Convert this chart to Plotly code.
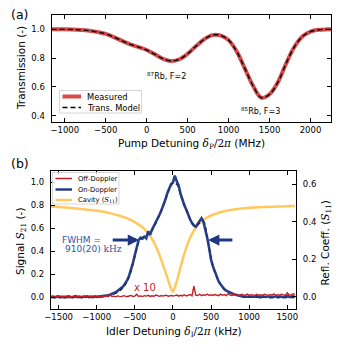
import plotly.graph_objects as go

W, H = 346, 356
OFF = 8  # the page body keeps its default 8px margin
FW, FH = W - OFF, H - OFF

# ---- panel (a): absorption spectrum ----
pump_mhz = [-1160, -1100, -1000, -900, -800, -700, -600, -500, -400, -300, -200, -100,
            0, 100, 200, 300, 400, 500, 600, 700, 800, 900, 1000, 1100, 1200, 1300,
            1400, 1500, 1600, 1700, 1800, 1900, 2000, 2100, 2200, 2250]
trans_measured = [1.000, 1.000, 1.000, 0.999, 0.996, 0.991, 0.982, 0.968, 0.946, 0.920, 0.895, 0.876,
                  0.856, 0.826, 0.795, 0.780, 0.792, 0.830, 0.882, 0.930, 0.960, 0.958, 0.925, 0.845,
                  0.725, 0.605, 0.524, 0.548, 0.630, 0.760, 0.875, 0.950, 0.985, 0.997, 1.000, 1.000]
trans_model = [1.000, 1.000, 1.000, 0.999, 0.996, 0.991, 0.982, 0.968, 0.946, 0.920, 0.895, 0.876,
               0.856, 0.826, 0.795, 0.780, 0.792, 0.830, 0.882, 0.930, 0.960, 0.958, 0.925, 0.845,
               0.725, 0.605, 0.524, 0.548, 0.630, 0.760, 0.875, 0.950, 0.985, 0.997, 1.000, 1.000]

# ---- panel (b): idler spectrum ----
idler_khz = list(range(-1600, 1625, 25))
on_doppler = [
    0.004, 0.008, 0.002, 0.006, 0.010, 0.003, 0.007, 0.001, 0.005, 0.009,
    0.004, 0.002, 0.007, 0.011, 0.003, 0.006, 0.002, 0.008, 0.005, 0.010,
    0.004, 0.007, 0.003, 0.009, 0.006,
    0.008, 0.011, 0.009, 0.014, 0.016, 0.020, 0.024, 0.030, 0.036, 0.047,
    0.058, 0.068, 0.085, 0.098, 0.120, 0.150, 0.190, 0.238, 0.300, 0.370,
    0.440, 0.500,
    0.520, 0.512, 0.530, 0.515, 0.575, 0.545, 0.590, 0.620, 0.655, 0.690,
    0.722, 0.760, 0.800, 0.850, 0.905, 0.945, 0.985, 1.000,
    1.060, 1.010, 0.975, 0.900, 0.845, 0.800, 0.765, 0.715, 0.680, 0.648,
    0.625, 0.615, 0.640, 0.655, 0.690, 0.660, 0.600, 0.520, 0.430, 0.330,
    0.270, 0.220, 0.180, 0.140, 0.115, 0.090, 0.072, 0.060, 0.050, 0.042,
    0.036, 0.028, 0.022, 0.020, 0.012, 0.010, 0.007,
    0.006, 0.010, 0.004, 0.008, 0.003, 0.007, 0.011, 0.005, 0.002, 0.009,
    0.006, 0.004, 0.010, 0.003, 0.007, 0.005, 0.012, 0.004, 0.008, 0.006,
    0.003, 0.009, 0.015, 0.005, 0.007, 0.010, 0.004,
]
off_doppler_x10 = [
    0.006, 0.010, 0.004, 0.012, 0.007, 0.009, 0.003, 0.011, 0.008, 0.005,
    0.013, 0.006, 0.010, 0.004, 0.009, 0.012, 0.006, 0.008, 0.014, 0.005,
    0.010, 0.007, 0.012, 0.006, 0.009,
    0.011, 0.005, 0.013, 0.008, 0.015, 0.007, 0.022, 0.009, 0.012, 0.006,
    0.014, 0.010, 0.008, 0.016, 0.011, 0.007, 0.013, 0.018, 0.009, 0.012,
    0.028, 0.010, 0.014, 0.008, 0.016, 0.012, 0.019, 0.009, 0.015, 0.011,
    0.021, 0.013, 0.010, 0.017, 0.012, 0.020, 0.014, 0.011, 0.018, 0.013,
    0.016, 0.022, 0.012, 0.019, 0.014, 0.024, 0.013, 0.018, 0.026, 0.015,
    0.098, 0.020, 0.017, 0.028, 0.016, 0.023, 0.019, 0.030, 0.017, 0.024,
    0.018, 0.026, 0.020, 0.016, 0.029, 0.019, 0.025, 0.017, 0.034, 0.021,
    0.018, 0.027, 0.020, 0.024, 0.016, 0.028, 0.022, 0.019, 0.030, 0.018,
    0.025, 0.021, 0.017, 0.027, 0.020, 0.024, 0.018, 0.029, 0.022, 0.019,
    0.026, 0.021, 0.032, 0.018, 0.025, 0.020, 0.028, 0.023, 0.019, 0.040,
    0.024, 0.021, 0.033, 0.026,
]
fit_khz = [-1600, -1200, -1000, -900, -800, -700, -650, -600, -550, -500, -450, -400, -350,
           -300, -250, -200, -150, -100, -50, 0, 50, 100, 150, 200, 250, 300, 350, 400,
           450, 500, 550, 600, 650, 700, 800, 900, 1000, 1200, 1600]
fit_on = [0.000, 0.001, 0.003, 0.008, 0.024, 0.058, 0.090, 0.142, 0.228, 0.355, 0.478, 0.522, 0.538,
          0.562, 0.612, 0.682, 0.758, 0.848, 0.938, 0.995, 0.985, 0.902, 0.808, 0.718, 0.650, 0.622,
          0.648, 0.660, 0.525, 0.345, 0.222, 0.142, 0.092, 0.060, 0.027, 0.010, 0.004, 0.001, 0.000]
cav_khz = [-1600, -1400, -1200, -1000, -800, -700, -600, -500, -400, -350, -300, -250, -200,
           -150, -100, -60, -30, -10, 0, 10, 30, 60, 100, 150, 200, 250, 300, 350, 400, 500,
           600, 700, 800, 1000, 1200, 1400, 1600]
cav_refl = [0.481, 0.475, 0.468, 0.458, 0.443, 0.432, 0.418, 0.398, 0.370, 0.350, 0.325, 0.290, 0.246,
            0.193, 0.134, 0.085, 0.050, 0.032, 0.027, 0.034, 0.056, 0.096, 0.160, 0.230, 0.290, 0.335,
            0.368, 0.392, 0.410, 0.433, 0.448, 0.458, 0.465, 0.474, 0.478, 0.481, 0.483]

RED_A = "#d64b4b"
RED_B = "#c41f26"
NAVY = "#1f3683"
NAVY_TXT = "#3853a4"
YELLOW = "#ffc95e"
FONT = "DejaVu Sans"
SERIF = "DejaVu Serif"


def px(x):
    return (x - OFF) / FW


def py(y):
    return 1 - (y - OFF) / FH


def m(s):
    # math-style span (serif)
    return f'<span style="font-family:{SERIF}">{s}</span>'


fig = go.Figure()

# (a)
fig.add_trace(go.Scatter(x=pump_mhz, y=trans_measured, xaxis="x", yaxis="y", mode="lines",
                         line=dict(color=RED_A, width=4, shape="spline"), showlegend=False))
fig.add_trace(go.Scatter(x=pump_mhz, y=trans_model, xaxis="x", yaxis="y", mode="lines",
                         line=dict(color="black", width=1.4, dash="5px,3px", shape="spline"),
                         showlegend=False))

# (b) cavity on the right axis (drawn underneath)
fig.add_trace(go.Scatter(x=cav_khz, y=cav_refl, xaxis="x2", yaxis="y3", mode="lines",
                         line=dict(color=YELLOW, width=2.5, shape="spline", smoothing=0.4),
                         showlegend=False))
fig.add_trace(go.Scatter(x=fit_khz, y=fit_on, xaxis="x2", yaxis="y2", mode="lines",
                         line=dict(color="black", width=1.4, dash="4px,3px", shape="spline"),
                         showlegend=False))
fig.add_trace(go.Scatter(x=idler_khz, y=on_doppler, xaxis="x2", yaxis="y2", mode="lines",
                         line=dict(color=NAVY, width=2.6), opacity=0.95, showlegend=False))
fig.add_trace(go.Scatter(x=idler_khz, y=off_doppler_x10, xaxis="x2", yaxis="y2", mode="lines",
                         line=dict(color=RED_B, width=1.4), showlegend=False))

ax = dict(showline=True, linecolor="black", linewidth=1.2, ticks="inside", ticklen=4,
          tickwidth=1, tickcolor="black", showgrid=False, zeroline=False, automargin=False,
          tickfont=dict(size=8.5, color="black"))
TITLE_SIZE = 10.5

fig.update_layout(
    width=FW, height=FH, margin=dict(l=0, r=0, t=0, b=0),
    template="none", paper_bgcolor="white", plot_bgcolor="white",
    font=dict(family=FONT, color="black"),
    showlegend=False,
    xaxis=dict(ax, domain=[px(51.7), px(331)], anchor="y", range=[-1160, 2250],
               tickvals=[-1000, -500, 0, 500, 1000, 1500, 2000], mirror="ticks"),
    yaxis=dict(ax, domain=[py(122), py(15)], anchor="x", range=[0.355, 1.10],
               tickvals=[0.4, 0.6, 0.8, 1.0], tickformat=".1f", mirror="ticks",
               ticklabelstandoff=4),
    xaxis2=dict(ax, domain=[px(51), px(296)], anchor="y3", range=[-1600, 1615],
                tickvals=[-1500, -1000, -500, 0, 500, 1000, 1500], mirror="ticks"),
    yaxis3=dict(ax, domain=[py(309), py(171)], anchor="x2", side="right", range=[-0.065, 0.67],
                tickvals=[0.0, 0.2, 0.4, 0.6], tickformat=".1f", ticklabelstandoff=4),
    yaxis2=dict(ax, overlaying="y3", anchor="x2", side="left", range=[-0.1, 1.1],
                tickvals=[0.0, 0.2, 0.4, 0.6, 0.8, 1.0], tickformat=".1f", ticklabelstandoff=4),
)

ann = []
shapes = []


def label(text, x, y, size, angle=0, color="black", xanchor="center"):
    return dict(text=text, x=px(x), y=py(y), xref="paper", yref="paper", textangle=angle,
                xanchor=xanchor, yanchor="middle", showarrow=False,
                font=dict(size=size, color=color))


# axis titles
ann.append(label(f"Pump Detuning {m('<i>δ</i><sub>P</sub>/2<i>π</i>')} (MHz)", 191.3, 143.5, TITLE_SIZE))
ann.append(label("Transmission (-)", 21.5, 68.5, TITLE_SIZE, -90))
ann.append(label(f"Idler Detuning {m('<i>δ</i><sub>I</sub>/2<i>π</i>')} (kHz)", 173.5, 332, TITLE_SIZE))
ann.append(label(f"Signal {m('<i>S</i><sub>21</sub>')} (-)", 21, 242, TITLE_SIZE, -90))
ann.append(label(f"Refl. Coeff. ({m('<i>S</i><sub>11</sub>')})", 325.5, 243, TITLE_SIZE, -90))

# panel letters
ann.append(label("(a)", 19.5, 14, 12.5))
ann.append(label("(b)", 19.5, 163, 12.5))

# (a) peak labels
ann.append(dict(text="<sup>87</sup>Rb, F=2", x=245, y=0.675, xref="x", yref="y",
                showarrow=False, font=dict(size=8)))
ann.append(dict(text="<sup>85</sup>Rb, F=3", x=1390, y=0.432, xref="x", yref="y",
                showarrow=False, font=dict(size=8)))

# (a) legend, drawn by hand to keep it compact
shapes.append(dict(type="rect", xref="paper", yref="paper", x0=px(59.5), x1=px(141.5),
                   y0=py(113), y1=py(90.5), line=dict(color="#cccccc", width=0.8),
                   fillcolor="rgba(255,255,255,0.85)"))
shapes.append(dict(type="line", xref="paper", yref="paper", x0=px(62.5), x1=px(81),
                   y0=py(96.5), y1=py(96.5), line=dict(color=RED_A, width=4)))
shapes.append(dict(type="line", xref="paper", yref="paper", x0=px(62.5), x1=px(81),
                   y0=py(107.5), y1=py(107.5), line=dict(color="black", width=1.4, dash="5px,3px")))
ann.append(label("Measured", 85, 96.5, 8.3, xanchor="left"))
ann.append(label("Trans. Model", 85, 107.5, 8.3, xanchor="left"))

# (b) legend
shapes.append(dict(type="rect", xref="paper", yref="paper", x0=px(52.5), x1=px(119),
                   y0=py(204), y1=py(172.5), line=dict(color="#cccccc", width=0.8),
                   fillcolor="rgba(255,255,255,0.85)"))
for yy, col, wd in [(178.5, RED_B, 1.5), (189.5, NAVY, 2.4), (200, YELLOW, 2.5)]:
    shapes.append(dict(type="line", xref="paper", yref="paper", x0=px(55.5), x1=px(72),
                       y0=py(yy), y1=py(yy), line=dict(color=col, width=wd)))
for yy, txt in [(178.5, "Off-Doppler"), (189.5, "On-Doppler"),
                (200, f"Cavity ({m('<i>S</i><sub>11</sub>')})")]:
    ann.append(label(txt, 76, yy, 6.8, xanchor="left"))

# (b) FWHM arrows and labels
for head, tail in [(-445, -810), (462, 800)]:
    ann.append(dict(text="", x=head, y=0.5, ax=tail, ay=0.5, xref="x2", yref="y2",
                    axref="x2", ayref="y2", showarrow=True, arrowhead=2, arrowsize=0.75,
                    arrowwidth=3, arrowcolor=NAVY, standoff=0))
ann.append(dict(text="FWHM =", x=-1195, y=0.50, xref="x2", yref="y2", showarrow=False,
                font=dict(size=9, color=NAVY_TXT)))
ann.append(dict(text=f"910(20) {m('kHz')}", x=-1045, y=0.42, xref="x2", yref="y2",
                showarrow=False, font=dict(size=9, color=NAVY_TXT)))
ann.append(dict(text="x 10", x=-363, y=0.09, xref="x2", yref="y2", showarrow=False,
                font=dict(size=10, color=RED_B)))

fig.update_layout(annotations=ann, shapes=shapes)
fig.write_html("out.html")
